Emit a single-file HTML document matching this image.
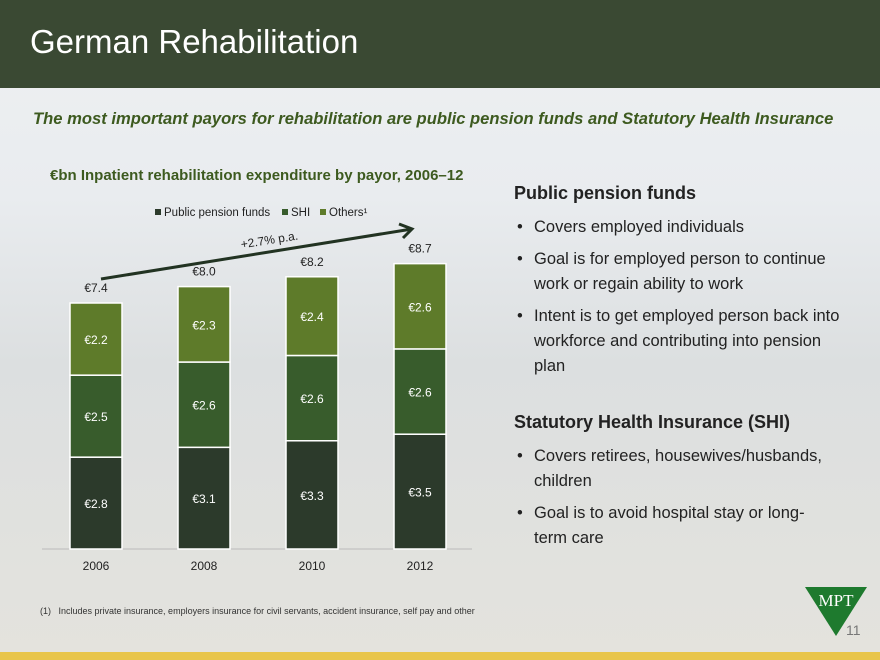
<!DOCTYPE html>
<html><head><meta charset="utf-8"><style>
body{margin:0;width:880px;height:660px;overflow:hidden;font-family:"Liberation Sans",sans-serif;position:relative;background:linear-gradient(180deg,#eef0f2 0%,#e9ecef 30%,#dcdfe0 55%,#e4e3dd 100%)}
.hdr{position:absolute;left:0;top:0;width:880px;height:88px;background:#3a4933}
.hdr h1{margin:0;position:absolute;left:30px;top:23px;font-weight:normal;color:#fff;font-size:33px}
.t{position:absolute;white-space:nowrap}
ul{margin:0;padding:0;list-style:none}
li{position:relative;padding-left:20px;font-size:16.5px;line-height:25px;color:#222;margin-bottom:7px}
li:before{content:"•";position:absolute;left:3px;top:0}
</style></head><body>
<div class="hdr"><h1>German Rehabilitation</h1></div>
<div class="t" style="left:33px;top:109px;font-size:16.6px;font-weight:bold;font-style:italic;color:#3d5a1f">The most important payors for rehabilitation are public pension funds and Statutory Health Insurance</div>
<div class="t" style="left:50px;top:167px;font-size:15px;font-weight:bold;color:#3d5a1f">€bn Inpatient rehabilitation expenditure by payor, 2006–12</div>
<svg id="chart" style="position:absolute;left:0;top:0" width="880" height="660"></svg>
<div class="t" style="left:40px;top:606px;font-size:9px;color:#333">(1)&nbsp;&nbsp;&nbsp;Includes private insurance, employers insurance for civil servants, accident insurance, self pay and other</div>
<div class="t" style="left:514px;top:183px;font-size:18px;font-weight:bold;color:#222">Public pension funds</div>
<div class="t" style="left:514px;top:215px;width:330px;white-space:normal"><ul>
<li>Covers employed individuals</li>
<li>Goal is for employed person to continue work or regain ability to work</li>
<li>Intent is to get employed person back into workforce and contributing into pension plan</li></ul></div>
<div class="t" style="left:514px;top:412px;font-size:18px;font-weight:bold;color:#222">Statutory Health Insurance (SHI)</div>
<div class="t" style="left:514px;top:444px;width:320px;white-space:normal"><ul>
<li>Covers retirees, housewives/husbands, children</li>
<li>Goal is to avoid hospital stay or long-term care</li></ul></div>
<svg style="position:absolute;left:805px;top:586px" width="64" height="52"><polygon points="0,1 62,1 31,50" fill="#1e7a2e"/><text x="31" y="20" text-anchor="middle" font-family="Liberation Serif" font-size="17" fill="#fff">MPT</text></svg>
<div class="t" style="left:846px;top:622px;font-size:14px;color:#777">11</div>
<div style="position:absolute;left:0;top:652px;width:880px;height:8px;background:#e8c54a"></div>
<script>
const years=["2006","2008","2010","2012"];
const pension=[2.8,3.1,3.3,3.5];
const shi=[2.5,2.6,2.6,2.6];
const others=[2.2,2.3,2.4,2.6];
const totals=["€7.4","€8.0","€8.2","€8.7"];
const series=[pension,shi,others];
const colors=["#2c3a2b","#385c2c","#5e7b2a"];
const ns="http://www.w3.org/2000/svg",svg=document.getElementById("chart");
const base=549,scale=32.8,x0=96,step=108,bw=52;
const y=v=>base-v*scale, xc=i=>x0+i*step;
function mk(t,a){const e=document.createElementNS(ns,t);for(const k in a)e.setAttribute(k,a[k]);svg.appendChild(e);return e;}
let ax=mk("line",{x1:42,x2:472,y1:base,y2:base,stroke:"#bbb"});


years.forEach((yr,i)=>{
 let cum=0;
 series.forEach((s,j)=>{
  const r=mk("rect",{x:xc(i)-bw/2,y:y(cum+s[i]),width:bw,height:s[i]*scale,fill:colors[j],stroke:"#fff","stroke-width":1.5});
  
  
  const l=mk("text",{x:xc(i),y:y(cum+s[i]/2)+5,"text-anchor":"middle","font-size":12,fill:"#fff","font-family":"Liberation Sans"});
  l.textContent="€"+s[i].toFixed(1);
  
  
  cum+=s[i];
 });
 const tl=mk("text",{x:xc(i),y:y(cum)-11,"text-anchor":"middle","font-size":12,fill:"#222","font-family":"Liberation Sans"});
 tl.textContent=totals[i];
 
 
 const xl=mk("text",{x:xc(i),y:570,"text-anchor":"middle","font-size":12,fill:"#222","font-family":"Liberation Sans"});
 xl.textContent=yr;
 
 
});
const legend=[["Public pension funds",155],["SHI",282],["Others¹",320]];
legend.forEach((l,i)=>{
 const r=mk("rect",{x:l[1],y:209,width:6,height:6,fill:colors[i]});
 
 
 const t=mk("text",{x:l[1]+9,y:216,"font-size":11.5,fill:"#222","font-family":"Liberation Sans"});
 t.textContent=l[0];
 
 
});
const arr=mk("path",{d:"M101,279 L412,229 M399,224 L412,229 L403,238",stroke:"#223322","stroke-width":3,fill:"none"});


const g=mk("text",{x:270,y:244,"text-anchor":"middle","font-size":12,fill:"#222","font-family":"Liberation Sans",transform:"rotate(-9 270 244)"});
g.textContent="+2.7% p.a.";


</script>
</body></html>
